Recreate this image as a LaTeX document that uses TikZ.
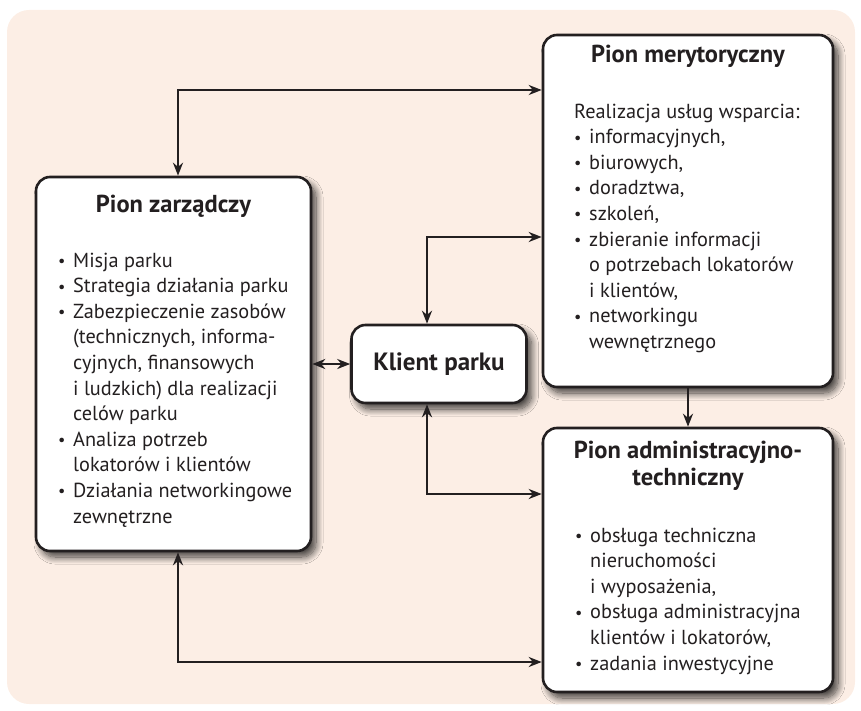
\documentclass[tikz,border=0pt]{standalone}
\usepackage{fontspec}
\setmainfont{PT Sans}
\usetikzlibrary{arrows.meta,shadows.blur}
\definecolor{bgpeach}{HTML}{FCEEE5}
\definecolor{ink}{HTML}{231F20}
\newcommand\bul{\makebox[15pt][l]{\raisebox{0.5pt}{\scalebox{0.8}{•}}}}
\newcommand\ind{\hspace*{15pt}}
\begin{document}
\begin{tikzpicture}[x=1pt,y=-1pt,
  box/.style={draw=ink, line width=2.6pt, fill=white, rounded corners=14pt,
    blur shadow={shadow xshift=5pt, shadow yshift=-6pt, shadow opacity=75, shadow blur steps=12, shadow blur radius=7pt}},
  body/.style={font=\fontsize{20.3}{25.6}\selectfont, align=left, inner sep=0pt, anchor=base west, text=ink},
  title/.style={font=\fontsize{24.5}{27}\selectfont\bfseries, align=center, inner sep=0pt, anchor=base, text=ink},
  arr/.style={draw=ink, line width=2.3pt, {Stealth[length=13pt,width=10pt]}-{Stealth[length=13pt,width=10pt]}},
  arrone/.style={draw=ink, line width=2.3pt, -{Stealth[length=13pt,width=10pt]}}]
\useasboundingbox (0,0) rectangle (861,711);
\fill[bgpeach, rounded corners=22pt] (7,10) rectangle (855,704);

% boxes
\node[box, minimum width=275pt, minimum height=374pt] (zarz) at (173.5,364) {};
\node[box, minimum width=290pt, minimum height=352pt] (meryt) at (688,211) {};
\node[box, minimum width=290pt, minimum height=264pt] (admin) at (688,560) {};
\node[box, minimum width=175pt, minimum height=78pt, font=\fontsize{25}{27}\selectfont\bfseries, text=ink] (klient) at (439,364) {Klient parku};

% titles (anchor = baseline of last line)
\node[title] (zt) at (173.5,213) {Pion zarządczy};
\node[title] (mt) at (688,63) {Pion merytoryczny};
\node[title] (at) at (688,485) {Pion administracyjno-\\techniczny};

% bodies (anchor = baseline of last line)
\node[body] (zb) at (58,523) {\bul Misja parku\\
\bul Strategia działania parku\\
\bul Zabezpieczenie zasobów\\
\ind(technicznych, informa-\\
\ind cyjnych, finansowych\\
\ind i ludzkich) dla realizacji\\
\ind celów parku\\
\bul Analiza potrzeb\\
\ind lokatorów i klientów\\
\bul Działania networkingowe\\
\ind zewnętrzne};

\node[body] (mb) at (574,348.4) {Realizacja usług wsparcia:\\
\bul informacyjnych,\\
\bul biurowych,\\
\bul doradztwa,\\
\bul szkoleń,\\
\bul zbieranie informacji\\
\ind o potrzebach lokatorów\\
\ind i klientów,\\
\bul networkingu\\
\ind wewnętrznego};

\node[body] (ab) at (575,670) {\bul obsługa techniczna\\
\ind nieruchomości\\
\ind i wyposażenia,\\
\bul obsługa administracyjna\\
\ind klientów i lokatorów,\\
\bul zadania inwestycyjne};

% connectors
\coordinate (t1) at (178,90);
\coordinate (t2) at (427,237);
\coordinate (t3) at (427,494);
\coordinate (t4) at (178,662);
\draw[arr] (zarz.north -| t1) -- (t1) -- (meryt.west |- t1);
\draw[arr] (klient.north -| t2) -- (t2) -- (meryt.west |- t2);
\draw[arr] (klient.south -| t3) -- (t3) -- (admin.west |- t3);
\draw[arr] (zarz.south -| t4) -- (t4) -- (admin.west |- t4);
\draw[arr] (zarz.east |- klient.west) -- (klient.west);
\draw[arrone] (meryt.south) -- (admin.north);
\end{tikzpicture}
\end{document}
